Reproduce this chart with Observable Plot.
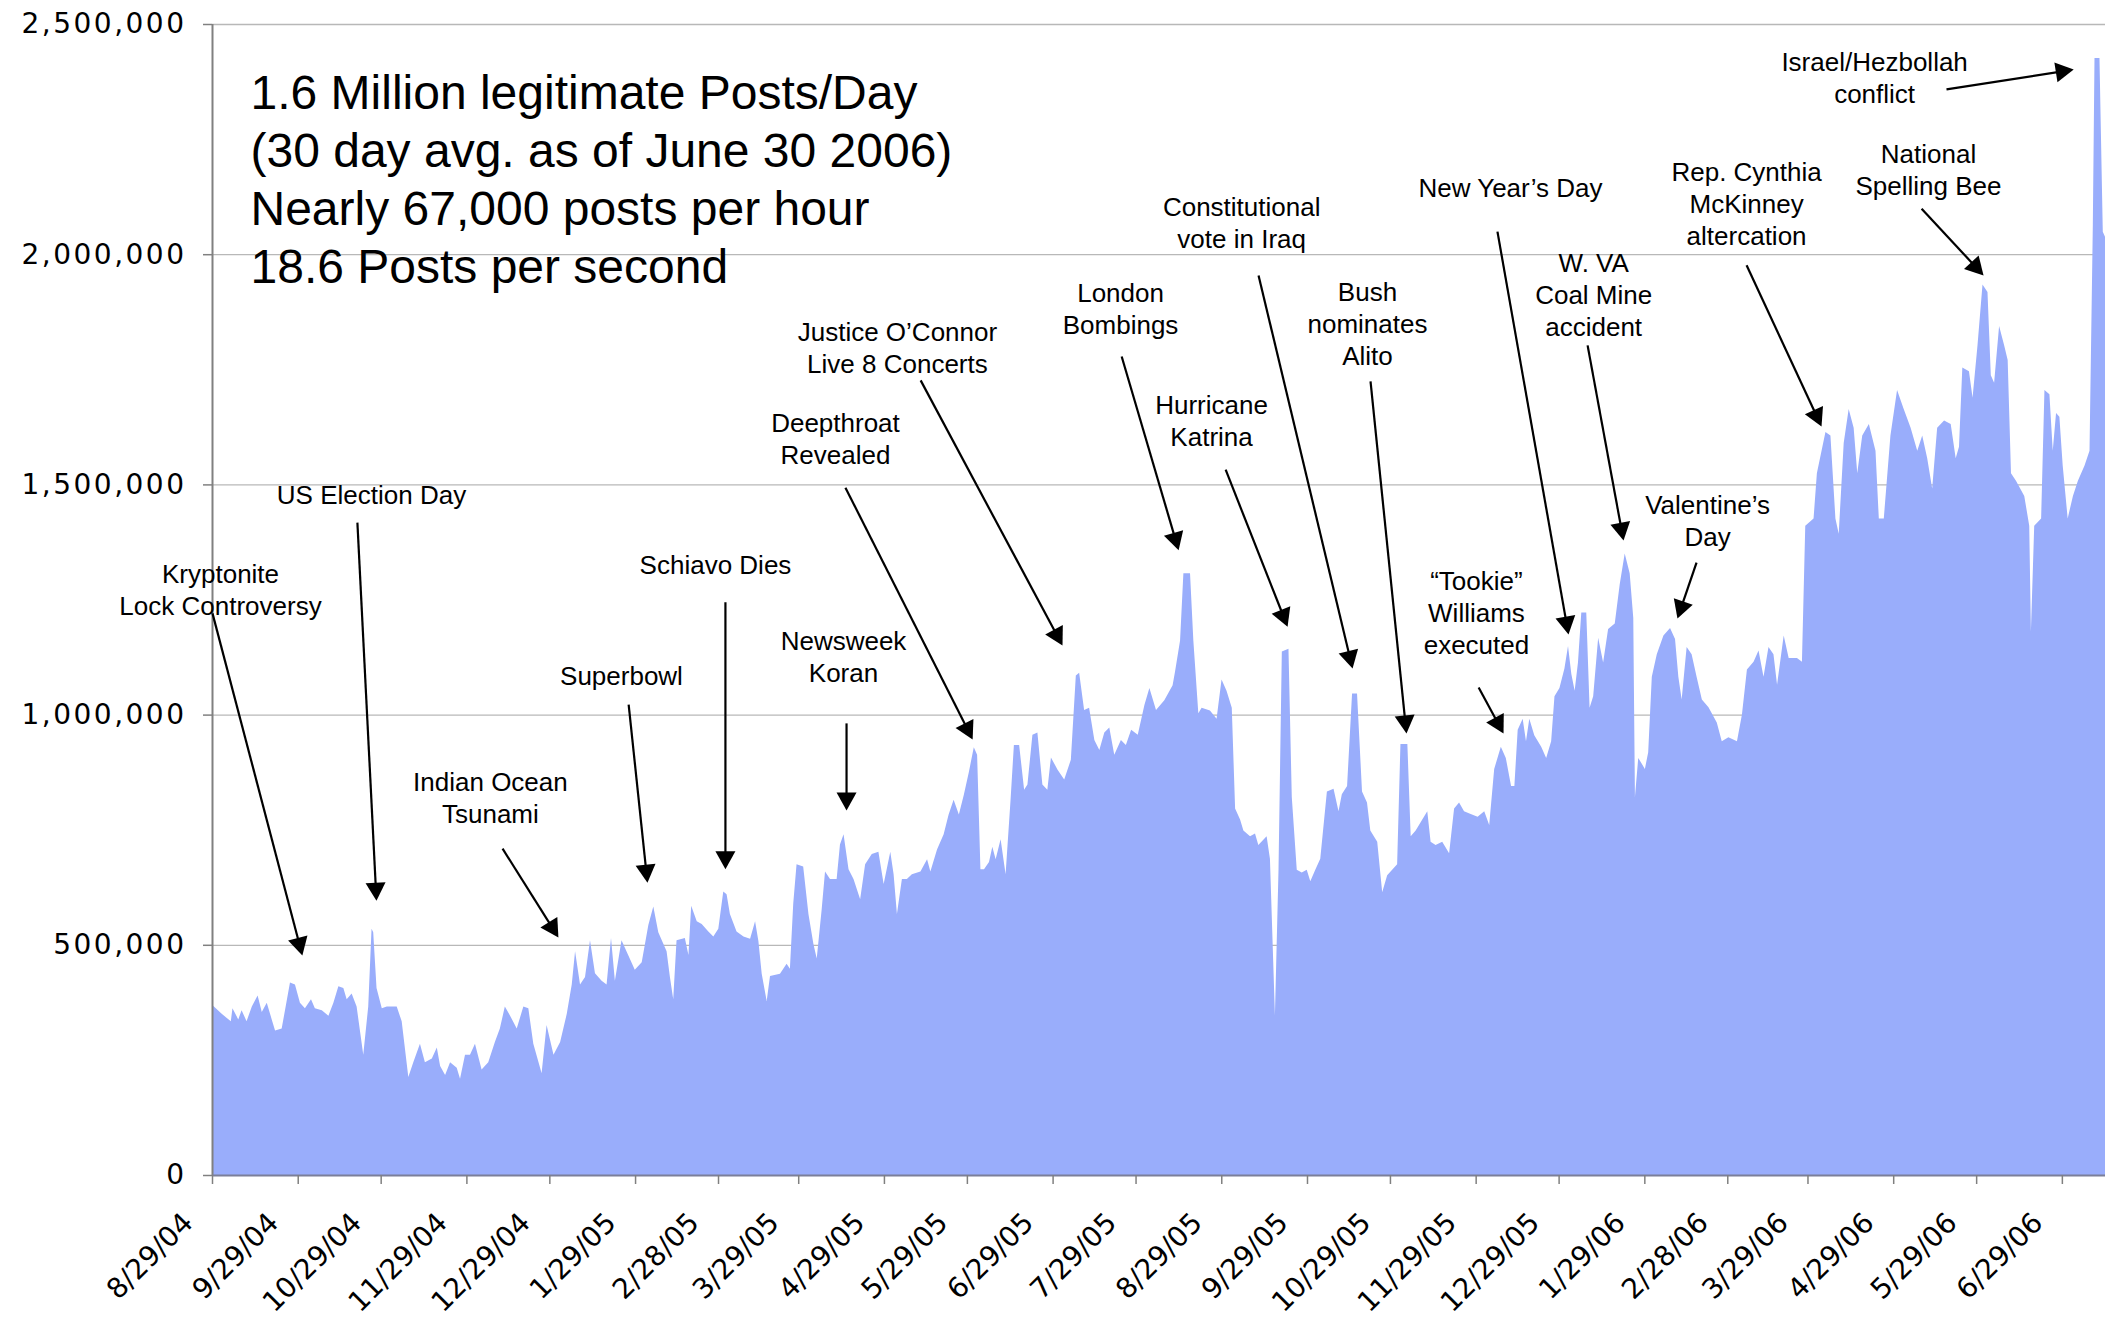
<!DOCTYPE html>
<html>
<head>
<meta charset="utf-8">
<script src="https://cdn.jsdelivr.net/npm/d3@7"></script>
<script src="https://cdn.jsdelivr.net/npm/@observablehq/plot@0.6"></script>
<style>
  html, body { margin: 0; padding: 0; background: #fff; }
  #chart { width: 2105px; height: 1323px; }
  #chart svg { display: block; }
  g[aria-label="y-axis tick label"] text { letter-spacing: 2.5px; }
  g[aria-label="x tick labels"] text { letter-spacing: 4px; }
  g[aria-label="event labels"] text { letter-spacing: 0.8px; }
</style>
</head>
<body>
<div id="chart"></div>
<script>
// ---------------- data ----------------
const startDate = "2004-08-29";
const lastVisibleDay = 684.6;   // days after startDate at the right edge of the chart

// vertices of the daily posts series: days after startDate, posts in thousands
const dayOffset = [
  0, 3.5, 6.8, 7.4, 9.5, 10.7, 12.5, 14.4, 16.5, 18,
  19.8, 21.6, 22.8, 25.2, 28.2, 30, 31.8, 33.6, 35.8, 37.2,
  39.7, 42.1, 43.9, 45.7, 47.5, 48.7, 50.5, 52.3, 54.7, 56.5,
  57.7, 58.3, 59.5, 61.4, 63.2, 66.8, 68.6, 71, 72.8, 75.2,
  77, 79.5, 81.3, 82.5, 84.3, 86.1, 88.5, 89.7, 91.5, 93.3,
  95.1, 97.5, 99.9, 102.3, 104.1, 105.9, 107.8, 110.2, 112.6, 114.4,
  116.2, 119.2, 121, 123.5, 125.9, 128.3, 130.1, 131.3, 133.1, 134.9,
  136.7, 138.5, 140.9, 142.7, 144.3, 145.7, 148.1, 150.5, 152.9, 155.4,
  157.8, 159.6, 161.4, 164.4, 165.6, 166.8, 168, 171, 172.3, 173.3,
  175.3, 177.1, 179.5, 181.3, 183.1, 184.9, 186.1, 187.3, 189.7, 192.2,
  194.6, 196.4, 197.6, 198.8, 200.6, 201.8, 205.4, 207.8, 209, 210.2,
  211.4, 213.8, 215.7, 217.5, 218.7, 220.5, 221.7, 223.5, 225.9, 227.1,
  228.4, 230.2, 232, 234.4, 236.2, 238.6, 241, 242.9, 245.3, 246.5,
  247.7, 249.5, 251.3, 253.1, 256.2, 258.6, 259.8, 262.2, 264.6, 266.4,
  268.2, 270.1, 271.9, 273.7, 275.5, 276.7, 277.9, 279.2, 281, 282.2,
  283.4, 285.2, 287, 288.8, 290, 291.9, 293.7, 294.9, 296.7, 298.5,
  300.3, 302.1, 303.4, 305.8, 308.2, 310.6, 312.4, 313.6, 315.4, 317.2,
  319.1, 320.9, 322.7, 324.5, 326.3, 328.7, 330.5, 332.4, 334.8, 337.2,
  339, 341.4, 344.4, 347.4,
  348.3, 350.1, 351.3, 353.7, 354.9, 356.7, 357.9, 360.9, 363.3, 365.1,
  366.9, 368.8, 370, 371.8, 373, 375.4, 377.2, 378.4, 381.4, 382.6,
  384.4, 385.7, 386.9, 389.3, 390.5, 392.3, 394.1, 395.9, 397.2, 399,
  400.8, 403.2, 405.6, 407.4, 408.6, 410.5, 412.3, 414.1, 415.9, 417.7,
  418.9, 421.4, 423.2, 425, 426.8, 428.6, 429.8, 432.3, 433.5, 435.3,
  437.1, 439.5, 440.7, 442.5, 444.9, 447.4, 449.2, 451, 452.8, 455.2,
  457.7, 460.1, 461.9, 463.7, 466.1, 467.9, 469.8, 471, 472.2, 474,
  475.2, 476.4, 478.2, 480.7, 482.5, 484.3, 485.5, 487.3, 489.1, 490.4,
  491.6, 492.8, 494, 495.2, 497, 498.2, 499.5, 501.3, 503.1, 504.9,
  507.3, 509.1, 510.9, 512.7, 514, 514.6, 515.8, 518.2, 519.4,
  520.7, 522.5, 524.9, 527.3, 529.1, 530.3, 531.5, 533.3, 535.1, 536.9,
  538.8, 541.2, 544.2, 546, 548.4, 551.5, 553.3, 555.1, 557.5, 559.3,
  561.1, 562.9, 564.7, 566, 568.4, 570.2, 573.2, 575, 576.2, 579.2,
  580.4, 583.5, 585.3, 587.1, 588.3, 590.1, 591.9, 593.7, 595, 596.8,
  599.2, 601.6, 602.8, 604.6, 607, 609.4, 611.8, 614.3, 616.7, 618.5,
  620.3, 622.1, 623.9, 626.4, 628.8, 630.6, 631.8, 633, 635.4, 636.7,
  638.5, 640.3, 642.1, 643.3, 644.5, 646.3, 648.1, 649.4, 650.6, 652.4,
  655.4, 657.2, 657.8, 659, 661.5, 662.7, 664.5, 665.7, 666.9, 668.1,
  669.3, 671.1, 673, 674.8, 677.2, 679, 680.2, 680.8, 682.6, 683.8, 685
];
const postsK = [
  370, 350, 334, 362, 338, 358, 334, 366, 390, 354,
  374, 338, 314, 318, 418, 414, 374, 362, 382, 362,
  358, 346, 374, 410, 406, 382, 394, 366, 261, 366,
  535, 527, 406, 362, 366, 366, 334, 213, 245, 285,
  245, 253, 277, 237, 217, 245, 233, 209, 261, 261,
  285, 229, 245, 289, 318, 366, 346, 318, 366, 362,
  285, 221, 326, 261, 289, 350, 414, 486, 414, 430,
  510, 438, 422, 414, 515, 422, 510, 478, 446, 462,
  543, 583, 527, 486, 430, 382, 510, 515, 478, 585,
  551, 545, 529, 518, 535, 616, 610, 567, 529, 518,
  513, 551, 508, 437, 378, 432, 437, 459, 448, 589,
  675, 670, 567, 502, 470, 578, 659, 643, 643, 718,
  740, 664, 643, 599, 675, 697, 702, 632, 702, 653,
  567, 643, 643, 653, 659, 686, 659, 707, 740, 783,
  815, 783, 826, 875, 929, 913, 664, 664, 680, 713,
  686, 729, 653, 815, 934, 934, 837, 848, 956, 961,
  848, 837, 907, 880, 859, 902, 1085, 1091, 1010, 1015,
  945, 923, 961, 972, 913, 945, 934, 967, 956, 1021,
  1058, 1010, 1031, 1064,
  1094, 1161, 1307, 1307, 1161, 1003, 1015, 1009, 991, 1076,
  1052, 1015, 796, 772, 748, 736, 742, 717, 736, 687,
  347, 663, 1137, 1143, 821, 663, 657, 663, 638, 663,
  687, 833, 839, 790, 827, 845, 1046, 1046, 833, 809,
  748, 724, 614, 651, 663, 675, 936, 936, 736, 748,
  766, 790, 724, 717, 724, 699, 796, 809, 790, 784,
  778, 790, 760, 882, 930, 906, 845, 845, 967, 991,
  942, 991, 955, 930, 906, 942, 1040, 1058, 1100, 1149,
  1088, 1052, 1113, 1222, 1222, 1015, 1040, 1167, 1113, 1186,
  1198, 1283, 1350, 1307, 1210, 821, 906, 882, 918,
  1082, 1131, 1172, 1188, 1164, 1082, 1033, 1147, 1131, 1082,
  1033, 1016, 983, 942, 951, 942, 1000, 1098, 1115, 1139,
  1082, 1147, 1131, 1065, 1172, 1123, 1123, 1115, 1410, 1426,
  1524, 1614, 1606, 1426, 1393, 1590, 1664, 1623, 1524, 1606,
  1631, 1573, 1426, 1426, 1606, 1705, 1664, 1623, 1573, 1606,
  1557, 1491, 1623, 1639, 1631, 1557, 1582, 1754, 1746, 1688,
  1803, 1934, 1918, 1737, 1721, 1844, 1803, 1770, 1524, 1508,
  1475, 1410, 1180, 1410, 1426, 1705, 1696, 1573, 1655, 1647,
  1541, 1426, 1475, 1508, 1541, 1573, 2065, 2426, 2426, 2049, 2032
];

const yTicks = [0, 500000, 1000000, 1500000, 2000000, 2500000];
const tickLabels = [
  "8/29/04", "9/29/04", "10/29/04", "11/29/04", "12/29/04", "1/29/05", "2/28/05",
  "3/29/05", "4/29/05", "5/29/05", "6/29/05", "7/29/05", "8/29/05", "9/29/05",
  "10/29/05", "11/29/05", "12/29/05", "1/29/06", "2/28/06", "3/29/06", "4/29/06",
  "5/29/06", "6/29/06"
];

const headlineLines = [
  "1.6 Million legitimate Posts/Day",
  "(30 day avg. as of June 30 2006)",
  "Nearly 67,000 posts per hour",
  "18.6 Posts per second"
];

// event annotations: label, label anchor (day, thousands), arrow from/to (day, thousands)
const eventLabels = [
  "Kryptonite\nLock Controversy", "US Election Day", "Indian Ocean\nTsunami", "Superbowl",
  "Schiavo Dies", "Newsweek\nKoran", "Deepthroat\nRevealed", "Justice O\u2019Connor\nLive 8 Concerts",
  "London\nBombings", "Hurricane\nKatrina", "Constitutional\nvote in Iraq", "Bush\nnominates\nAlito",
  "\u201CTookie\u201D\nWilliams\nexecuted", "New Year\u2019s Day", "W. VA\nCoal Mine\naccident",
  "Valentine\u2019s\nDay", "Rep. Cynthia\nMcKinney\naltercation", "National\nSpelling Bee",
  "Israel/Hezbollah\nconflict"
];
const eventDay    = [2.9, 57.5, 100.5, 147.9, 181.9, 228.2, 225.3, 247.7, 328.4, 361.3, 372.2, 417.7, 457.1, 469.4, 499.5, 540.7, 554.8, 620.6, 601.1];
const eventK      = [1275, 1481, 823, 1088, 1329, 1129, 1603, 1801, 1885, 1642, 2072, 1853, 1225, 2148, 1916, 1425, 2113, 2187, 2387];
const arrowFromDay = [0, 52.4, 104.9, 150.5, 185.5, 229.3, 228.9, 256.1, 328.8, 366.4, 378.3, 418.8, 457.9, 464.7, 497.3, 536.7, 554.8, 618.1, 627.1];
const arrowFromK   = [1221, 1418, 710, 1023, 1245, 982, 1494, 1727, 1779, 1533, 1955, 1725, 1060, 2050, 1803, 1331, 1977, 2100, 2359];
const arrowToDay   = [32.5, 59.3, 125.1, 157.3, 185.5, 229.3, 274.9, 307.4, 349.4, 388.8, 412.3, 431.8, 466.9, 490.4, 510.3, 529.8, 581.9, 640.5, 673.1];
const arrowToK     = [478, 597, 517, 636, 665, 793, 947, 1151, 1358, 1192, 1101, 960, 960, 1175, 1379, 1210, 1627, 1955, 2402];

// ---------------- layout ----------------
const W = 2105, H = 1323, ML = 212, MR = 0, MT = 24, MB = 148;
const start = d3.utcParse("%Y-%m-%d")(startDate);
const toDate = d => new Date(+start + d * 864e5);
const xDomain = [start, toDate(lastVisibleDay)];
const yDomain = [0, 2500000];
const parseTick = d3.utcParse("%m/%d/%y");

const series = dayOffset.map((d, i) => ({date: toDate(d), posts: postsK[i] * 1000}));
const ticks = tickLabels.map(label => ({label, date: parseTick(label)}));
const events = eventLabels.map((label, i) => ({label, date: toDate(eventDay[i]), value: eventK[i] * 1000}));

const xs = Plot.scale({x: {type: "utc", domain: xDomain, range: [ML, W - MR]}});
const ys = Plot.scale({y: {type: "linear", domain: yDomain, range: [H - MB, MT]}});
const arrows = arrowFromDay.map((d, i) => {
  const px1 = xs.apply(toDate(d)), py1 = ys.apply(arrowFromK[i] * 1000);
  const px2 = xs.apply(toDate(arrowToDay[i])), py2 = ys.apply(arrowToK[i] * 1000);
  const len = Math.hypot(px2 - px1, py2 - py1);
  const ux = (px2 - px1) / len, uy = (py2 - py1) / len;
  return {
    x1: toDate(d), y1: arrowFromK[i] * 1000,
    x2: xs.invert(px2 - ux * 8), y2: ys.invert(py2 - uy * 8),
    tipX: toDate(arrowToDay[i]), tipY: arrowToK[i] * 1000,
    angle: Math.atan2(ux, -uy) * 180 / Math.PI
  };
});

const chart = Plot.plot({
  width: W, height: H,
  marginLeft: ML, marginRight: MR, marginTop: MT, marginBottom: MB,
  x: {type: "utc", domain: xDomain, label: null},
  y: {type: "linear", domain: yDomain, label: null},
  style: {fontFamily: "'DejaVu Sans', Verdana, sans-serif", fontSize: "28px", color: "#000", background: "#fff", overflow: "visible"},
  marks: [
    Plot.ruleY(yTicks.filter(v => v > 0), {stroke: "#b8b8b8", strokeWidth: 1.3}),
    Plot.areaY(series, {x: "date", y: "posts", fill: "#99adfb", curve: "linear", clip: true}),
    Plot.ruleX([xDomain[0]], {stroke: "#808080", strokeWidth: 2}),
    Plot.ruleY([0], {stroke: "#7b7f99", strokeWidth: 2}),
    Plot.axisY({ticks: yTicks, tickFormat: d3.format(","), tickSize: 9, tickPadding: 17,
      label: null, fontSize: 28, fontFamily: "'DejaVu Sans', Verdana, sans-serif",
      stroke: "#808080", strokeWidth: 1.5, fill: "#000"}),
    Plot.axisX({ticks: ticks.map(t => t.date), tickSize: 9, tickFormat: () => "", label: null,
      stroke: "#808080", strokeWidth: 1.5}),
    Plot.text(ticks, {x: "date", text: "label", frameAnchor: "bottom", rotate: -45,
      textAnchor: "end", dx: -18, dy: 49, fontSize: 28,
      fontFamily: "'DejaVu Sans', Verdana, sans-serif", fill: "#000", ariaLabel: "x tick labels"}),
    Plot.text([headlineLines.join("\n")], {text: d => d, frameAnchor: "top-left", textAnchor: "start",
      lineAnchor: "top", dx: 38, dy: 43, fontSize: 48, lineHeight: 1.208,
      fontFamily: "'Liberation Sans', Arial, sans-serif", fill: "#000"}),
    Plot.link(arrows, {x1: "x1", y1: "y1", x2: "x2", y2: "y2", stroke: "#000", strokeWidth: 2.2}),
    Plot.vector(arrows, {x: "tipX", y: "tipY", rotate: "angle", length: 18, r: 10, shape: "spike",
      anchor: "end", fill: "#000", stroke: "none"}),
    Plot.text(events, {x: "date", y: "value", text: "label", fontSize: 26, lineHeight: 1.23,
      fontFamily: "'Liberation Sans', Arial, sans-serif", fill: "#000", ariaLabel: "event labels"})
  ]
});
document.getElementById("chart").appendChild(chart);
</script>
</body>
</html>
